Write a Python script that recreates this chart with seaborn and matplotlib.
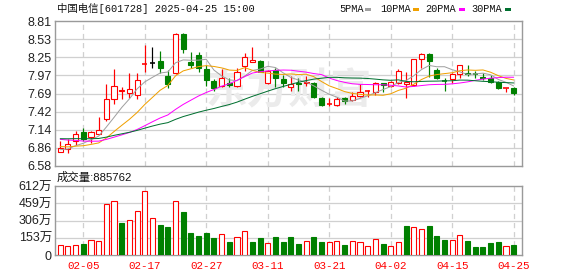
import matplotlib
matplotlib.use('Agg')
import matplotlib.pyplot as plt
from matplotlib.patches import Rectangle
import seaborn as sns
import numpy as np
import pandas as pd

sns.set_theme(style='white')
plt.rcParams['font.family'] = ['Liberation Sans', 'Noto Sans CJK SC']

# ---------------- data ----------------
dates = ['01-23', '01-24', '01-27', '02-05', '02-06', '02-07', '02-10', '02-11', '02-12', '02-13',
         '02-14', '02-17', '02-18', '02-19', '02-20', '02-21', '02-24', '02-25', '02-26', '02-27',
         '02-28', '03-03', '03-04', '03-05', '03-06', '03-07', '03-10', '03-11', '03-12', '03-13',
         '03-14', '03-17', '03-18', '03-19', '03-20', '03-21', '03-24', '03-25', '03-26', '03-27',
         '03-28', '03-31', '04-01', '04-02', '04-03', '04-07', '04-08', '04-09', '04-10', '04-11',
         '04-14', '04-15', '04-16', '04-17', '04-18', '04-21', '04-22', '04-23', '04-24', '04-25']

opens = [6.80, 6.84, 6.964, 7.098, 7.026, 7.077, 7.307, 7.606, 7.735, 7.707,
         7.67, 8.14, 8.16, 8.195, 7.964, 8.006, 8.605, 8.184, 8.287, 8.072,
         7.887, 7.815, 7.86, 7.815, 8.123, 8.185, 8.20, 7.852, 8.056, 7.913,
         7.79, 7.852, 7.852, 7.86, 7.62, 7.53, 7.518, 7.63, 7.595, 7.66,
         7.725, 7.713, 7.852, 7.81, 7.86, 7.836, 7.83, 8.22, 8.30, 8.056,
         7.89, 7.913, 7.99, 8.01, 7.995, 7.95, 7.93, 7.87, 7.77, 7.78]
highs = [6.965, 6.995, 7.118, 7.16, 7.118, 7.33, 7.84, 8.067, 7.795, 8.006,
         8.006, 8.44, 8.405, 8.35, 8.056, 8.62, 8.63, 8.33, 8.338, 8.133,
         7.913, 8.067, 7.928, 8.083, 8.313, 8.405, 8.216, 8.056, 8.083, 7.98,
         7.96, 7.93, 7.97, 7.877, 7.646, 7.62, 7.637, 7.646, 7.72, 7.836,
         7.75, 7.877, 7.86, 7.89, 8.067, 8.03, 8.22, 8.32, 8.32, 8.083,
         7.94, 8.006, 8.14, 8.14, 8.04, 8.01, 7.98, 7.89, 7.78, 7.79]
lows = [6.79, 6.775, 6.903, 6.964, 6.94, 7.067, 7.27, 7.53, 7.606, 7.62,
        7.606, 8.02, 8.09, 8.006, 7.785, 7.99, 8.313, 8.083, 8.02, 7.815,
        7.733, 7.80, 7.80, 7.80, 8.04, 8.175, 8.04, 7.836, 7.80, 7.80,
        7.74, 7.73, 7.815, 7.62, 7.507, 7.507, 7.507, 7.53, 7.58, 7.646,
        7.646, 7.67, 7.713, 7.80, 7.84, 7.62, 7.81, 8.08, 7.95, 7.913,
        7.73, 7.86, 7.94, 7.96, 7.93, 7.91, 7.86, 7.765, 7.72, 7.67]
closes = [6.85, 6.913, 7.067, 6.99, 7.098, 7.13, 7.61, 7.81, 7.75, 7.76,
          7.898, 8.15, 8.16, 8.083, 7.836, 8.605, 8.375, 8.133, 8.092, 7.90,
          7.775, 7.928, 7.826, 8.03, 8.26, 8.205, 8.03, 8.04, 7.938, 7.852,
          7.848, 7.836, 7.877, 7.646, 7.518, 7.54, 7.61, 7.58, 7.656, 7.713,
          7.735, 7.852, 7.826, 7.877, 8.04, 7.877, 8.22, 8.30, 8.195, 7.94,
          7.88, 7.99, 8.133, 7.995, 7.985, 7.935, 7.866, 7.775, 7.775, 7.70]
# volume in 万 (10k lots)
volumes_wan = [88.7, 80, 86, 97.6, 133, 124, 452, 476, 287, 310,
               388, 565, 325, 266, 248, 476, 384, 198, 169, 198,
               151, 186, 115, 160, 213, 115, 148, 104, 157, 115,
               157, 95, 124, 157, 115, 115, 124, 89, 124, 115,
               77, 142, 98, 80, 115, 257, 245, 228, 257, 169,
               133, 133, 175, 124, 71, 71, 106, 115, 77, 88.5762]
# closes before the first visible day (needed for the moving averages)
prior_closes = [6.95, 7.00, 7.05, 7.08, 7.02, 6.98, 7.00, 7.05, 7.04, 7.03,
                7.12, 7.18, 7.20, 7.15, 7.10, 7.08, 7.12, 7.05, 7.02, 6.98,
                6.98, 6.95, 6.92, 6.90, 6.90, 6.85, 6.82, 6.80, 6.83]

price_tick_labels = ['6.58', '6.86', '7.14', '7.42', '7.69', '7.97', '8.25', '8.53', '8.81']
vol_tick_values = [0, 153, 306, 459, 612]
vol_tick_labels = ['0', '153万', '306万', '459万', '612万']
date_tick_labels = ['02-05', '02-17', '02-27', '03-11', '03-21', '04-02', '04-15', '04-25']
ma_periods = [5, 10, 20, 30]
ma_names = ['5PMA', '10PMA', '20PMA', '30PMA']

# ---------------- styles ----------------
RED = '#ff0000'
GREEN = '#008000'
MA_COLORS = ['#a0a0a0', '#f0a000', '#ff00ff', '#007030']
GRID = '#d0d0d0'
SPINE = '#9a9a9a'
W, H = 578, 276
PX = 0.72  # one pixel in points

n = len(closes)
idx = np.arange(n)
df = pd.DataFrame({'date': dates, 'open': opens, 'high': highs, 'low': lows,
                   'close': closes, 'vol': volumes_wan, 'i': idx})
df['prev'] = [prior_closes[-1]] + closes[:-1]
all_close = pd.Series(prior_closes + closes)
ma_frames = []
for p, name in zip(ma_periods, ma_names):
    m = all_close.rolling(p).mean().iloc[len(prior_closes):].to_numpy()
    ma_frames.append(pd.DataFrame({'i': idx, 'ma': m, 'name': name}))
ma_df = pd.concat(ma_frames, ignore_index=True)

fig = plt.figure(figsize=(W / 100, H / 100), dpi=100)
fig.patch.set_facecolor('white')
ax = fig.add_axes([55 / W, 1 - 166 / H, (522 - 55) / W, (166 - 21) / H])
axv = fig.add_axes([55 / W, 1 - 255 / H, (522 - 55) / W, (255 - 186) / H])

xlim = (-0.68, n + 0.08)
tick_pos = [dates.index(d) for d in date_tick_labels]

# ---------------- price panel ----------------
ymin, ymax = float(price_tick_labels[0]), float(price_tick_labels[-1])
yt = np.linspace(ymin, ymax, len(price_tick_labels))
ax.set_xlim(*xlim)
ax.set_ylim(ymin, ymax)
for y in yt[1:-1]:
    ax.axhline(y, color=GRID, lw=1.3 * PX, zorder=0)
for t in tick_pos:
    ax.axvline(t, color=GRID, lw=1.3 * PX, ls=(0, (4, 3)), zorder=0)

ax.text(0.5, 0.52, '东方财富', transform=ax.transAxes, ha='center', va='center',
        fontsize=30, color='#ebebeb', fontweight='bold', family=['Noto Sans CJK SC'],
        zorder=0.5)

bw = 0.66
candle_colors = []
for r in df.itertuples():
    if r.close > r.open:
        c = RED
    elif r.close < r.open:
        c = GREEN
    else:
        c = 'black'
    candle_colors.append(c)
    ax.vlines(r.i, r.low, r.high, color=c, lw=1.2 * PX, zorder=2)
    lo, hi = min(r.open, r.close), max(r.open, r.close)
    if hi - lo < 0.012:
        ax.hlines((lo + hi) / 2, r.i - bw / 2, r.i + bw / 2, color=c, lw=1.6 * PX, zorder=3)
    else:
        fc = 'white' if c == RED else c
        ax.bar(r.i, hi - lo, bottom=lo, width=bw, facecolor=fc, edgecolor=c,
               linewidth=1.1 * PX, zorder=3)

for name, col in zip(ma_names, MA_COLORS):
    sub = ma_df[ma_df['name'] == name]
    sns.lineplot(data=sub, x='i', y='ma', ax=ax, color=col, lw=1.0 * PX, zorder=4,
                 legend=False, errorbar=None)

ax.set_yticks(yt)
ax.set_yticklabels(price_tick_labels)
ax.set_xticks([])
ax.set_xlabel('')
ax.set_ylabel('')
ax.tick_params(axis='y', length=0, pad=2.2, labelsize=9, labelcolor='#222222')
for s in ax.spines.values():
    s.set_color(SPINE)
    s.set_linewidth(1.4 * PX)

# ---------------- volume panel ----------------
axv.set_xlim(*xlim)
axv.set_ylim(0, vol_tick_values[-1])
for v in vol_tick_values[1:-1]:
    axv.axhline(v, color=GRID, lw=1.3 * PX, zorder=0)
for t in tick_pos:
    axv.axvline(t, color=GRID, lw=1.3 * PX, ls=(0, (4, 3)), zorder=0)

# volume colour follows the change against the previous close
df['vcol'] = np.where(df['close'] >= df['prev'], RED, GREEN)
up = df[df['vcol'] == RED]
dn = df[df['vcol'] == GREEN]
axv.bar(up['i'], up['vol'], width=bw, facecolor='white', edgecolor=RED, linewidth=1.1 * PX, zorder=3)
axv.bar(dn['i'], dn['vol'], width=bw, facecolor=GREEN, edgecolor=GREEN, linewidth=1.1 * PX, zorder=3)

axv.set_yticks(vol_tick_values)
axv.set_yticklabels(vol_tick_labels)
axv.set_xticks(tick_pos)
axv.set_xticklabels(date_tick_labels, family=['Liberation Mono'], color=RED, fontsize=7.8)
axv.tick_params(axis='y', length=0, pad=2.2, labelsize=9, labelcolor='#222222')
axv.tick_params(axis='x', length=0, pad=4)
axv.set_xlabel('')
axv.set_ylabel('')
for s in axv.spines.values():
    s.set_color(SPINE)
    s.set_linewidth(1.4 * PX)

# ---------------- header texts ----------------
fig.text(57 / W, 1 - 9 / H, '中国电信[601728] 2025-04-25 15:00', ha='left', va='center',
         fontsize=7.5, family=['Liberation Mono', 'Noto Sans CJK SC'], color='#111111')
fig.text(57 / W, 1 - 177.5 / H, '成交量:' + str(int(round(volumes_wan[-1] * 1e4))), ha='left',
         va='center', fontsize=8.2, family=['Liberation Sans', 'Noto Sans CJK SC'], color='#111111')

leg_x = [339, 380, 425.7, 471.7]
sq_x = [365, 413, 459, 505]
for name, col, tx, sx in zip(ma_names, MA_COLORS, leg_x, sq_x):
    fig.text(tx / W, 1 - 9 / H, name, ha='left', va='center', fontsize=7.4,
             family=['Liberation Mono'], color='#111111')
    fig.add_artist(Rectangle((sx / W, 1 - 11 / H), 6 / W, 3.5 / H, transform=fig.transFigure,
                             facecolor=col, edgecolor='none'))

fig.savefig('out.png', dpi=100, facecolor='white')
